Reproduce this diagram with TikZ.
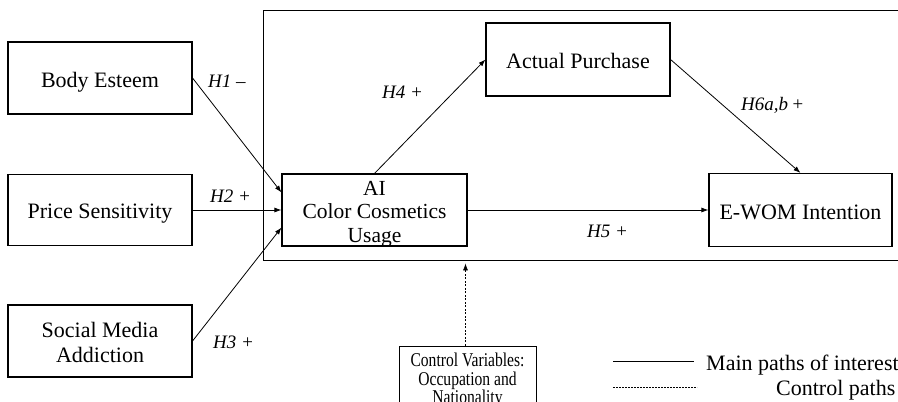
\documentclass[tikz,border=0pt]{standalone}
\usepackage{fontspec}
\setmainfont{Liberation Serif}
\newfontfamily\condfont[FakeStretch=0.8]{Liberation Serif}
\usetikzlibrary{arrows.meta,calc}
\begin{document}
\begin{tikzpicture}[x=1pt,y=-1pt,
  box/.style={draw, line width=1.1pt, inner sep=0pt},
  boxtext/.style={font=\fontsize{22}{25}\selectfont, align=center, inner sep=0pt},
  hyp/.style={font=\itshape\fontsize{19}{22}\selectfont, anchor=base west, inner sep=0pt},
  mainpath/.style={line width=0.8pt, -{Latex[length=7pt,width=5pt]}},
  ctrlpath/.style={line width=0.7pt, dash pattern=on 2pt off 1.5pt, -{Latex[length=7pt,width=5pt]}}
]
\useasboundingbox (0,0) rectangle (898,402);
\clip (0,0) rectangle (898,402);
\fill[white] (0,0) rectangle (898,402);

% frame
\node[draw, line width=1.4pt, inner sep=0pt, minimum width=650pt, minimum height=250pt, anchor=north west] (frame) at (263,10) {};

% boxes
\node[box, minimum width=184pt, minimum height=72pt] (body) at (100,78) {};
\node[boxtext, anchor=base] (bodyt) at (100,87) {Body Esteem};

\node[box, minimum width=184pt, minimum height=71pt] (price) at (100,210) {};
\node[boxtext, anchor=base] (pricet) at (100,218) {Price Sensitivity};

\node[box, minimum width=184pt, minimum height=72pt] (social) at (100,341) {};
\node[boxtext, anchor=north] (socialt) at (100,322) {Social Media\\Addiction};

\node[box, minimum width=185pt, minimum height=72pt] (ai) at (374.5,210) {};
\node[boxtext, font=\fontsize{21.5}{23.5}\selectfont, anchor=north] (ait) at (374.5,181) {AI\\Color Cosmetics\\Usage};

\node[box, minimum width=184pt, minimum height=73pt] (actual) at (578,59.5) {};
\node[boxtext, anchor=base] (actualt) at (578,68) {Actual Purchase};

\node[box, minimum width=183pt, minimum height=73pt] (ewom) at (800.5,210) {};
\node[boxtext, anchor=base] (ewomt) at (800.5,219) {E-WOM Intention};

\node[box, line width=1pt, minimum width=137pt, minimum height=94pt] (ctrl) at (467.5,393) {};
\node[boxtext, font=\condfont\fontsize{19.5}{18.5}\selectfont, anchor=north] (ctrlt) at (467.5,353) {Control Variables:\\Occupation and\\Nationality};

% main paths
\draw[mainpath] (body.east) -- ($(ai.north west)!0.26!(ai.south west)$);
\draw[mainpath] (price.east) -- (price.east -| ai.west);
\draw[mainpath] (social.east) -- ($(ai.north west)!0.74!(ai.south west)$);
\draw[mainpath] (ai.north) -- (actual.west);
\draw[mainpath] (actual.east) -- (ewom.north);
\draw[mainpath] (ai.east) -- (ewom.west);

% control path
\coordinate (ctrltip) at ($(ctrl.north |- frame.south)+(-2,2)$);
\draw[ctrlpath] (ctrl.north -| ctrltip) -- (ctrltip);

% hypothesis labels
\node[hyp] (h1) at (208,87) {H1 –};
\node[hyp] (h2) at (210,202) {H2 +};
\node[hyp] (h3) at (213,348) {H3 +};
\node[hyp] (h4) at (382,98) {H4 +};
\node[hyp] (h5) at (587,237) {H5 +};
\node[hyp] (h6) at (741,110) {H6a,b\,+};

% legend
\coordinate (solA) at (613,361);
\coordinate (solB) at (694,361);
\draw[line width=1pt] (solA) -- (solB);
\coordinate (dasA) at (613,387);
\coordinate (dasB) at (697,387);
\draw[line width=0.7pt, dash pattern=on 2pt off 1pt] (dasA) -- (dasB);
\node[font=\fontsize{22}{25}\selectfont, anchor=base west, inner sep=0pt] (lgmain) at (706,370) {Main paths of interest};
\node[font=\fontsize{22}{25}\selectfont, anchor=base west, inner sep=0pt] (lgctrl) at (776,395) {Control paths};
\end{tikzpicture}
\end{document}
